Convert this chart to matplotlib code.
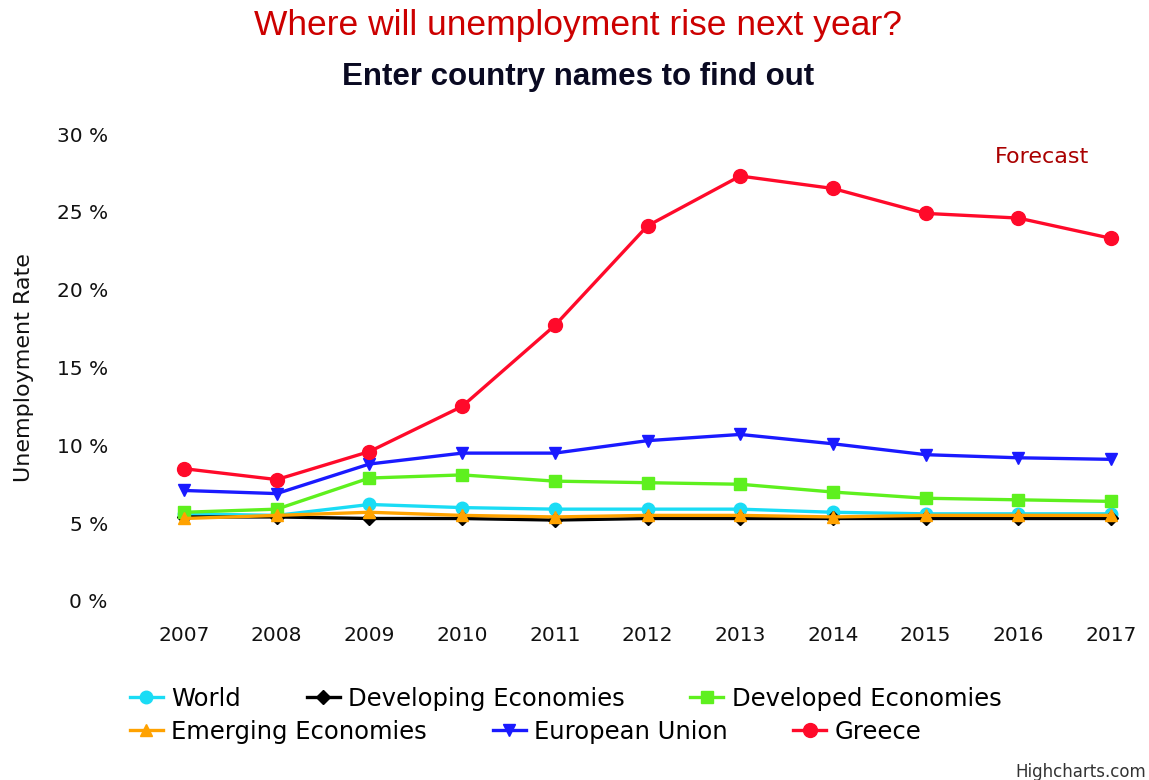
import matplotlib
matplotlib.use("Agg")
import matplotlib.pyplot as plt
from matplotlib.ticker import FuncFormatter

years = [2007, 2008, 2009, 2010, 2011, 2012, 2013, 2014, 2015, 2016, 2017]

world = [5.6, 5.5, 6.2, 6.0, 5.9, 5.9, 5.9, 5.7, 5.6, 5.6, 5.6]
developing = [5.4, 5.4, 5.3, 5.3, 5.2, 5.3, 5.3, 5.3, 5.3, 5.3, 5.3]
developed = [5.7, 5.9, 7.9, 8.1, 7.7, 7.6, 7.5, 7.0, 6.6, 6.5, 6.4]
emerging = [5.3, 5.5, 5.7, 5.5, 5.4, 5.5, 5.5, 5.4, 5.5, 5.5, 5.5]
eu = [7.1, 6.9, 8.8, 9.5, 9.5, 10.3, 10.7, 10.1, 9.4, 9.2, 9.1]
greece = [8.5, 7.8, 9.6, 12.5, 17.7, 24.1, 27.3, 26.5, 24.9, 24.6, 23.3]

series_names = ["World", "Developing Economies", "Developed Economies",
                "Emerging Economies", "European Union", "Greece"]
series_values = [world, developing, developed, emerging, eu, greece]
colors = ["#1adcf5", "#000000", "#5ef01e", "#ffa200", "#1a1aff", "#ff0a2a"]
markers = ["o", "D", "s", "^", "v", "o"]
msizes = [9, 7, 9, 9, 9, 10]

fig = plt.figure(figsize=(11.49, 7.80), dpi=100)
ax = fig.add_axes([130 / 1149, 179 / 780, 1010 / 1149, 467 / 780])

lines = []
for name, vals, c, m, ms in zip(series_names, series_values, colors, markers, msizes):
    ln, = ax.plot(years, vals, color=c, marker=m, markersize=ms, linewidth=2.4,
                  label=name, clip_on=False)
    lines.append(ln)

ax.set_xlim(2006.417, 2017.313)
ax.set_ylim(0, 30)
ax.set_xticks(years)
ax.set_yticks(range(0, 31, 5))
ax.yaxis.set_major_formatter(FuncFormatter(lambda v, p: f"{int(v)} %"))
ax.tick_params(axis="both", length=0, labelsize=14.5, colors="#111111")
ax.tick_params(axis="y", pad=16)
ax.tick_params(axis="x", pad=18)
for s in ax.spines.values():
    s.set_visible(False)

ax.set_ylabel("Unemployment Rate", fontsize=16, color="#111111")
ax.yaxis.set_label_coords(-0.095, 0.5)

fig.text(578 / 1149, 1 - 25 / 780, "Where will unemployment rise next year?",
         ha="center", va="center", color="#cc0000", fontsize=25.5,
         family="Liberation Sans")
fig.text(578 / 1149, 1 - 77 / 780, "Enter country names to find out",
         ha="center", va="center", color="#0a0a22", fontsize=22.5,
         fontweight="bold", family="Liberation Sans")
fig.text(1042 / 1149, 1 - 157 / 780, "Forecast", ha="center", va="center",
         color="#aa0000", fontsize=16)
# credits label, pulled in a little so it is not clipped
fig.text(1146 / 1149, 1 - 772 / 780, "Highcharts.com", ha="right", va="center",
         color="#333333", fontsize=12)

leg_kw = dict(frameon=False, fontsize=17.5, handlelength=1.35, handletextpad=0.35,
              columnspacing=2.7, borderaxespad=0, borderpad=0)
leg1 = fig.legend(lines[:3], series_names[:3], ncol=3, loc="center left",
                  bbox_to_anchor=(130 / 1149, 1 - 699 / 780), **leg_kw)
leg2 = fig.legend(lines[3:], series_names[3:], ncol=3, loc="center left",
                  bbox_to_anchor=(130 / 1149, 1 - 732 / 780), **leg_kw)

fig.savefig("out.png", dpi=100)
